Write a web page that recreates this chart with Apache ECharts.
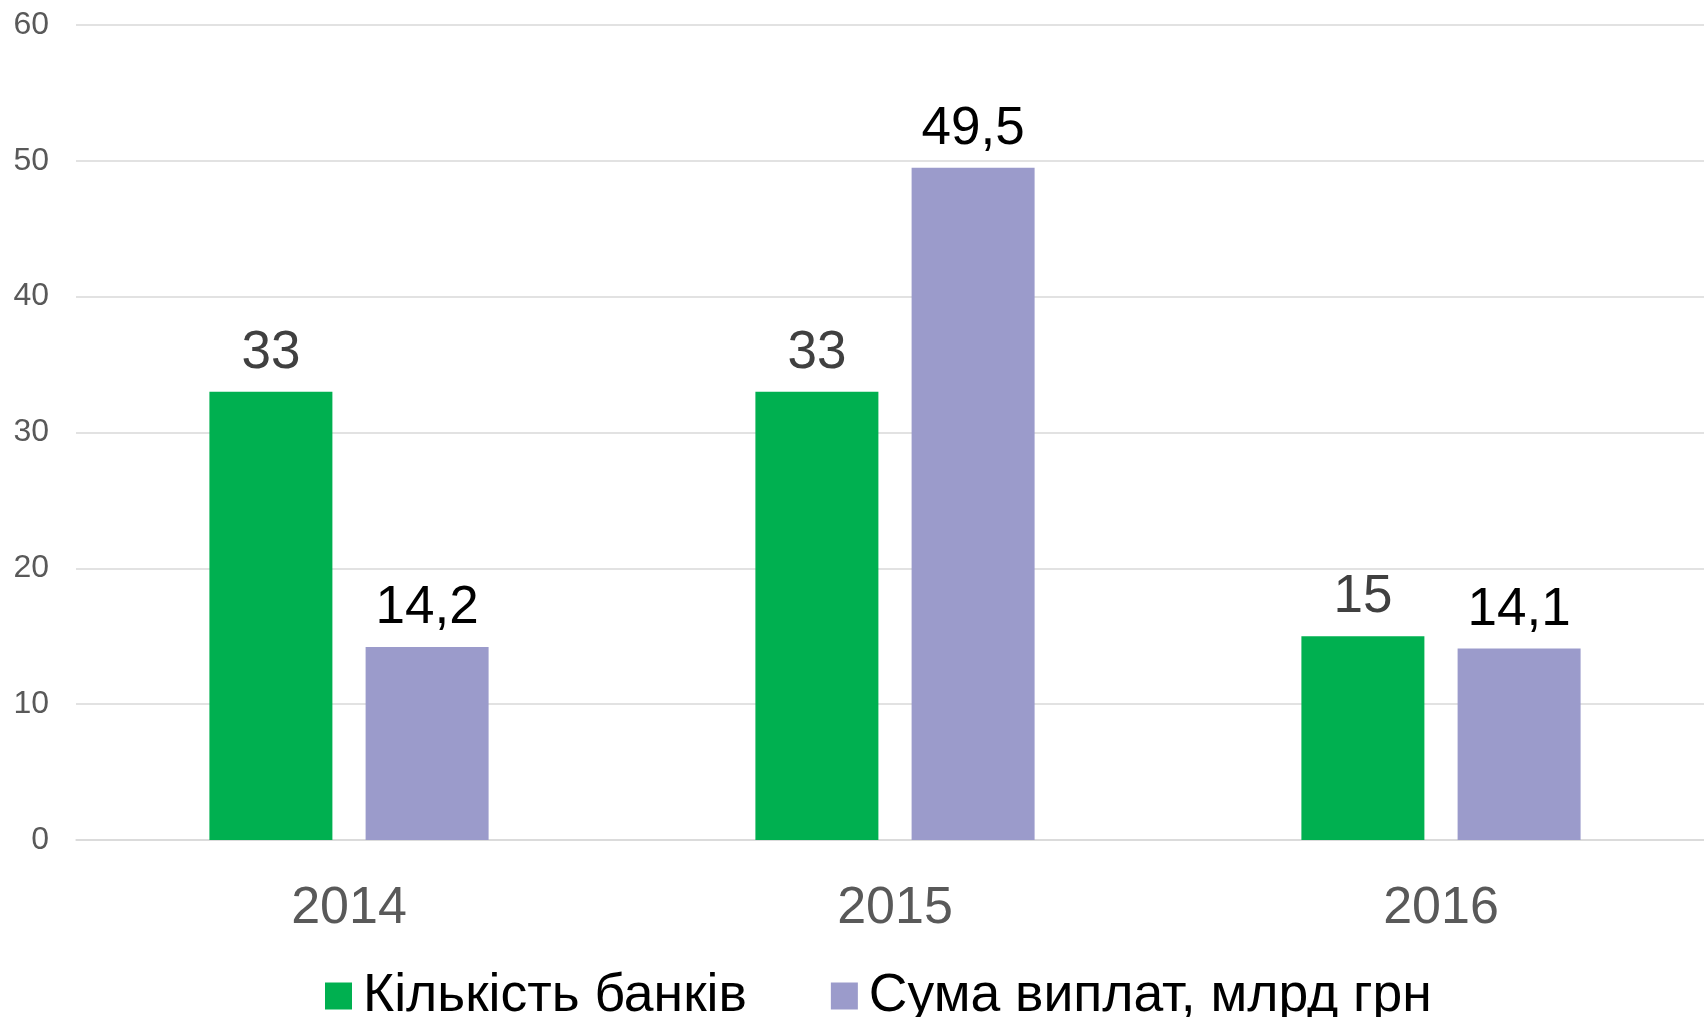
<!DOCTYPE html>
<html>
<head>
<meta charset="utf-8">
<script src="https://cdn.jsdelivr.net/npm/echarts@6/dist/echarts.min.js"></script>
<style>
  html, body { margin: 0; padding: 0; background: #fff; }
  #chart { width: 1704px; height: 1017px; }
</style>
</head>
<body>
<div id="chart"></div>
<script>
const years = ['2014', '2015', '2016']
const bankCount = [33, 33, 15]
const payoutSum = [14.2, 49.5, 14.1]
const seriesNames = ['Кількість банків', 'Сума виплат, млрд грн']

const FONT = "'Liberation Sans', Arial, sans-serif"

// Excel-style decimal comma
const fmt = (v) => String(v).replace('.', ',')

const chart = echarts.init(document.getElementById('chart'))

chart.setOption({
  backgroundColor: '#ffffff',
  animation: false,
  textStyle: { fontFamily: FONT },
  // plot area runs a little past the right edge, as in the source
  grid: { left: 76, width: 1638, top: 25, height: 815, containLabel: false, outerBoundsMode: 'none' },
  legend: {
    left: 320,
    top: 964,
    itemWidth: 27,
    itemHeight: 27,
    itemGap: 84,
    icon: 'rect',
    textStyle: { fontSize: 53.5, color: '#000000', fontFamily: FONT, padding: [0, 0, 0, 6] },
    data: seriesNames
  },
  xAxis: {
    type: 'category',
    data: years,
    axisLine: { lineStyle: { color: '#D9D9D9', width: 1.5 } },
    axisTick: { show: false },
    axisLabel: { fontSize: 52, color: '#595959', margin: 43, fontFamily: FONT }
  },
  yAxis: {
    type: 'value',
    min: 0,
    max: 60,
    interval: 10,
    axisLine: { show: false },
    axisTick: { show: false },
    splitLine: { lineStyle: { color: '#D9D9D9', width: 1.5 } },
    axisLabel: { fontSize: 32, color: '#595959', margin: 27, fontFamily: FONT }
  },
  series: [
    {
      name: seriesNames[0],
      type: 'bar',
      data: bankCount,
      barWidth: 123,
      barGap: '27%',
      itemStyle: { color: '#00B050' },
      label: {
        show: true,
        position: 'top',
        distance: 12,
        fontSize: 53,
        color: '#404040',
        fontFamily: FONT,
        formatter: (p) => fmt(p.value)
      }
    },
    {
      name: seriesNames[1],
      type: 'bar',
      data: payoutSum,
      barWidth: 123,
      itemStyle: { color: '#9B9BCB' },
      label: {
        show: true,
        position: 'top',
        distance: 12,
        fontSize: 53,
        color: '#000000',
        fontFamily: FONT,
        formatter: (p) => fmt(p.value)
      }
    }
  ]
})
</script>
</body>
</html>
